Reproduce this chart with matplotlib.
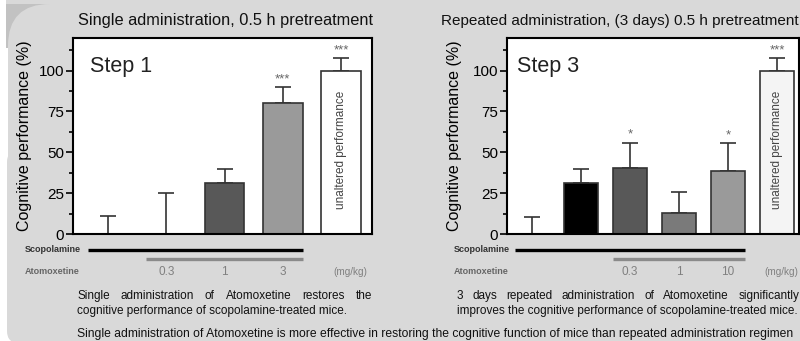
import numpy as np
import matplotlib
matplotlib.use('Agg')
import matplotlib.pyplot as plt
from matplotlib.patches import Rectangle, FancyBboxPatch
import matplotlib.transforms as mtransforms

plt.rcParams['font.family'] = ['Liberation Sans', 'DejaVu Sans']

W, H = 800, 341

# step 1 : single administration
left_values = [0, 0, 31, 80, 100]
left_errors = [11, 25, 9, 10, 7.5]
left_colors = ['white', 'white', '#585858', '#9a9a9a', 'white']
left_stars = ['', '', '', '***', '***']
left_doses = ['', '0.3', '1', '3']

# step 3 : repeated administration (3 days)
right_values = [0, 31, 40.5, 13, 38.5, 99.5]
right_errors = [10.5, 8.5, 15.5, 12.5, 17, 8]
right_colors = ['white', 'black', '#585858', '#7a7a7a', '#9a9a9a', '#f4f4f4']
right_stars = ['', '', '*', '', '*', '***']
right_doses = ['', '', '0.3', '1', '10']

fig = plt.figure(figsize=(W / 100, H / 100), dpi=100, facecolor='white')

# background card
bg = fig.add_axes([0, 0, 1, 1], zorder=-5)
bg.set_xlim(0, W)
bg.set_ylim(H, 0)
bg.axis('off')
card = '#d9d9d9'
bg.add_patch(Rectangle((6, 0), W, 5, color=card, lw=0))
bg.add_patch(Rectangle((6, 4), 48, 44, color='#c2c2c2', lw=0))
bg.add_patch(FancyBboxPatch((8, 4), W + 50, 200, boxstyle='round,pad=0,rounding_size=42',
                            color=card, lw=0))
bg.add_patch(FancyBboxPatch((7, 150), W + 50, 193, boxstyle='round,pad=0,rounding_size=12',
                            color=card, lw=0))


def px(x, y):
    return x / W, 1 - y / H


def justify(x0, x1, y, text, **kw):
    r = fig.canvas.get_renderer()
    words = text.split()
    ts = [fig.text(0, 1 - y / H, w, ha='left', va='center', **kw) for w in words]
    widths = [t.get_window_extent(r).width for t in ts]
    gap = (x1 - x0 - sum(widths)) / (len(words) - 1)
    x = x0
    for t, wd in zip(ts, widths):
        t.set_x(x / W)
        x += wd + gap


def panel(rect, values, errors, colors, stars, doses, xlim, step, step_x, last_bar, unit_dx):
    ax = fig.add_axes(rect)
    x = np.arange(len(values))
    width = 0.68
    ax.bar(x, values, width=width, color=colors, edgecolor='#333333', linewidth=1.2, zorder=2)
    ax.errorbar(x, values, yerr=[np.zeros(len(values)), errors], fmt='none',
                ecolor='#333333', elinewidth=1.2, capsize=6, capthick=1.2, zorder=1)
    for xi, v, e, s in zip(x, values, errors, stars):
        if s:
            ax.text(xi, v + e + 1.0, s, ha='center', va='bottom', fontsize=9.5, color='#666666')
    ax.text(x[-1], 51.5, 'unaltered performance', rotation=90, ha='center', va='center',
            fontsize=8.5, color='#444444')
    ax.set_xlim(*xlim)
    ax.set_ylim(0, 120)
    ax.set_xticks([])
    ax.set_yticks([0, 25, 50, 75, 100])
    ax.set_yticks(np.arange(12.5, 120, 25), minor=True)
    ax.tick_params(axis='y', which='major', length=5, width=1.2, labelsize=11, pad=1.5)
    ax.tick_params(axis='y', which='minor', length=3, width=1.2)
    for sp in ax.spines.values():
        sp.set_linewidth(1.5)
    ax.set_ylabel('Cognitive performance (%)', fontsize=11.5)
    ax.text(step_x, 0.827, step, transform=ax.transAxes,
            fontsize=15.5, color='#222222', va='baseline')

    # treatment bars under the axis
    tr = mtransforms.blended_transform_factory(ax.transData, ax.transAxes)
    h = width / 2
    ax.plot([x[0] - h, x[last_bar] + h], [-0.082, -0.082], color='black', lw=2.4,
            transform=tr, clip_on=False, solid_capstyle='butt')
    first_dose = [i for i, d in enumerate(doses) if d][0]
    ax.plot([x[first_dose] - h, x[last_bar] + h], [-0.128, -0.128], color='#8a8a8a', lw=2.4,
            transform=tr, clip_on=False, solid_capstyle='butt')
    for xi, d in zip(x, doses):
        if d:
            ax.text(xi, -0.194, d, transform=tr, ha='center', va='center',
                    fontsize=8.5, color='#808080', clip_on=False)
    ax.text(x[-1] + unit_dx, -0.194, '(mg/kg)', transform=tr, ha='center', va='center',
            fontsize=7.2, color='#808080', clip_on=False)
    return ax


axl = panel([73 / W, 1 - 234 / H, 299 / W, 196 / H], left_values, left_errors, left_colors,
            left_stars, left_doses, (-0.6, 4.53), 'Step 1', 0.057, 3, 0.15)
axl.yaxis.set_label_coords(-0.137, 0.5)
axr = panel([507 / W, 1 - 234 / H, 292 / W, 196 / H], right_values, right_errors, right_colors,
            right_stars, right_doses, (-0.51, 5.45), 'Step 3', 0.034, 4, 0.08)
axr.yaxis.set_label_coords(-0.155, 0.5)

# titles
fig.text(*px(225, 21), 'Single administration, 0.5 h pretreatment', ha='center', va='center',
         fontsize=11.8, color='#111111')
fig.text(*px(799, 21), 'Repeated administration, (3 days) 0.5 h pretreatment', ha='right',
         va='center', fontsize=11, color='#111111')

# row labels
for xl in (25, 454):
    fig.text(*px(xl, 250), 'Scopolamine', ha='left', va='center', fontsize=6.5,
             fontweight='bold', color='#333333')
    fig.text(*px(xl, 272), 'Atomoxetine', ha='left', va='center', fontsize=6.5,
             fontweight='bold', color='#666666')

# captions
cap = dict(fontsize=8.5, color='#111111')
justify(77, 372, 296, 'Single administration of Atomoxetine restores the', **cap)
fig.text(*px(77, 311), 'cognitive performance of scopolamine-treated mice.', ha='left',
         va='center', **cap)
justify(457, 799, 296, '3 days repeated administration of Atomoxetine significantly', **cap)
fig.text(*px(457, 311), 'improves the cognitive performance of scopolamine-treated mice.',
         ha='left', va='center', **cap)
fig.text(*px(77, 334), 'Single administration of Atomoxetine is more effective in restoring the '
         'cognitive function of mice than repeated administration regimen', ha='left',
         va='center', fontsize=8.75, color='#111111')

fig.savefig('out.png', dpi=100, facecolor=fig.get_facecolor())
